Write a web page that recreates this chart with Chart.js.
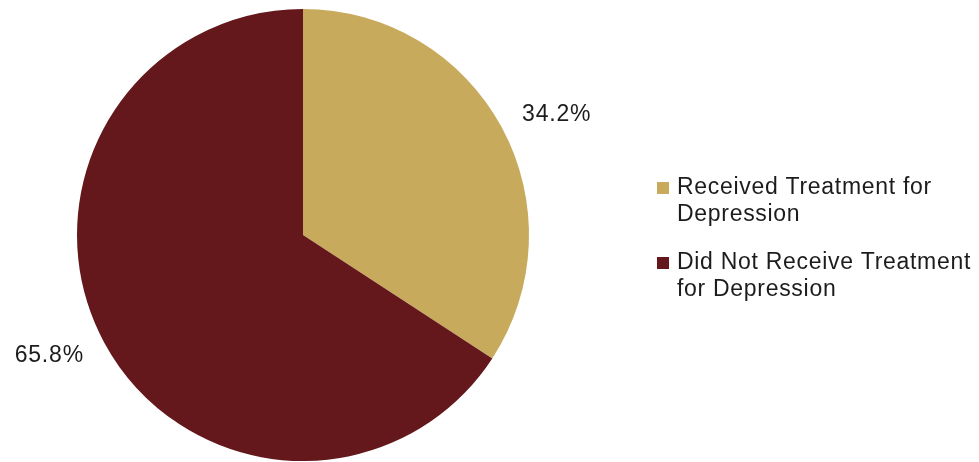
<!DOCTYPE html>
<html>
<head>
<meta charset="utf-8">
<script src="https://cdn.jsdelivr.net/npm/chart.js@4"></script>
<style>
  html, body { margin: 0; padding: 0; background: #fff; }
  #wrap { width: 979px; height: 462px; }
</style>
</head>
<body>
<div id="wrap"><canvas id="treatmentChart" width="979" height="462"></canvas></div>
<script>
// Treatment split (percent)
const categories = [
  ["Received Treatment for", "Depression"],
  ["Did Not Receive Treatment", "for Depression"]
];
const shares = [34.2, 65.8];
const sliceColors = ["#C8AA5C", "#64181C"];

// percent labels just outside each slice
const outsideLabels = {
  id: "outsideLabels",
  afterDatasetsDraw(chart) {
    const ctx = chart.ctx;
    const meta = chart.getDatasetMeta(0);
    ctx.save();
    ctx.font = "23px 'Liberation Sans', Arial, sans-serif";
    ctx.letterSpacing = "0.8px";
    ctx.fillStyle = "#1c1c1c";
    ctx.textAlign = "center";
    ctx.textBaseline = "middle";
    meta.data.forEach((arc, i) => {
      const mid = (arc.startAngle + arc.endAngle) / 2 + 0.052;
      const r = arc.outerRadius + 55;
      const x = arc.x + Math.cos(mid) * r;
      const y = arc.y + Math.sin(mid) * r;
      ctx.fillText(shares[i].toFixed(1) + "%", x, y);
    });
    ctx.restore();
  }
};

// legend on the right with wrapped text
const sideLegend = {
  id: "sideLegend",
  afterDraw(chart) {
    const ctx = chart.ctx;
    const x0 = 657, lineH = 27;
    let y = 188;
    ctx.save();
    ctx.font = "23px 'Liberation Sans', Arial, sans-serif";
    ctx.letterSpacing = "0.7px";
    ctx.textBaseline = "middle";
    chart.data.labels.forEach((lines, i) => {
      ctx.fillStyle = sliceColors[i];
      ctx.fillRect(x0, y - 6, 12, 12);
      ctx.fillStyle = "#1c1c1c";
      lines.forEach((t, j) => ctx.fillText(t, x0 + 20, y + j * lineH));
      y += lines.length * lineH + 21;
    });
    ctx.restore();
  }
};

new Chart(document.getElementById("treatmentChart"), {
  type: "pie",
  data: {
    labels: categories,
    datasets: [{
      data: shares,
      backgroundColor: sliceColors,
      borderWidth: 0
    }]
  },
  options: {
    responsive: false,
    animation: false,
    layout: { padding: { top: 9, bottom: 1, left: 77, right: 450 } },
    plugins: {
      legend: { display: false },
      tooltip: { enabled: false }
    }
  },
  plugins: [outsideLabels, sideLegend]
});
</script>
</body>
</html>
